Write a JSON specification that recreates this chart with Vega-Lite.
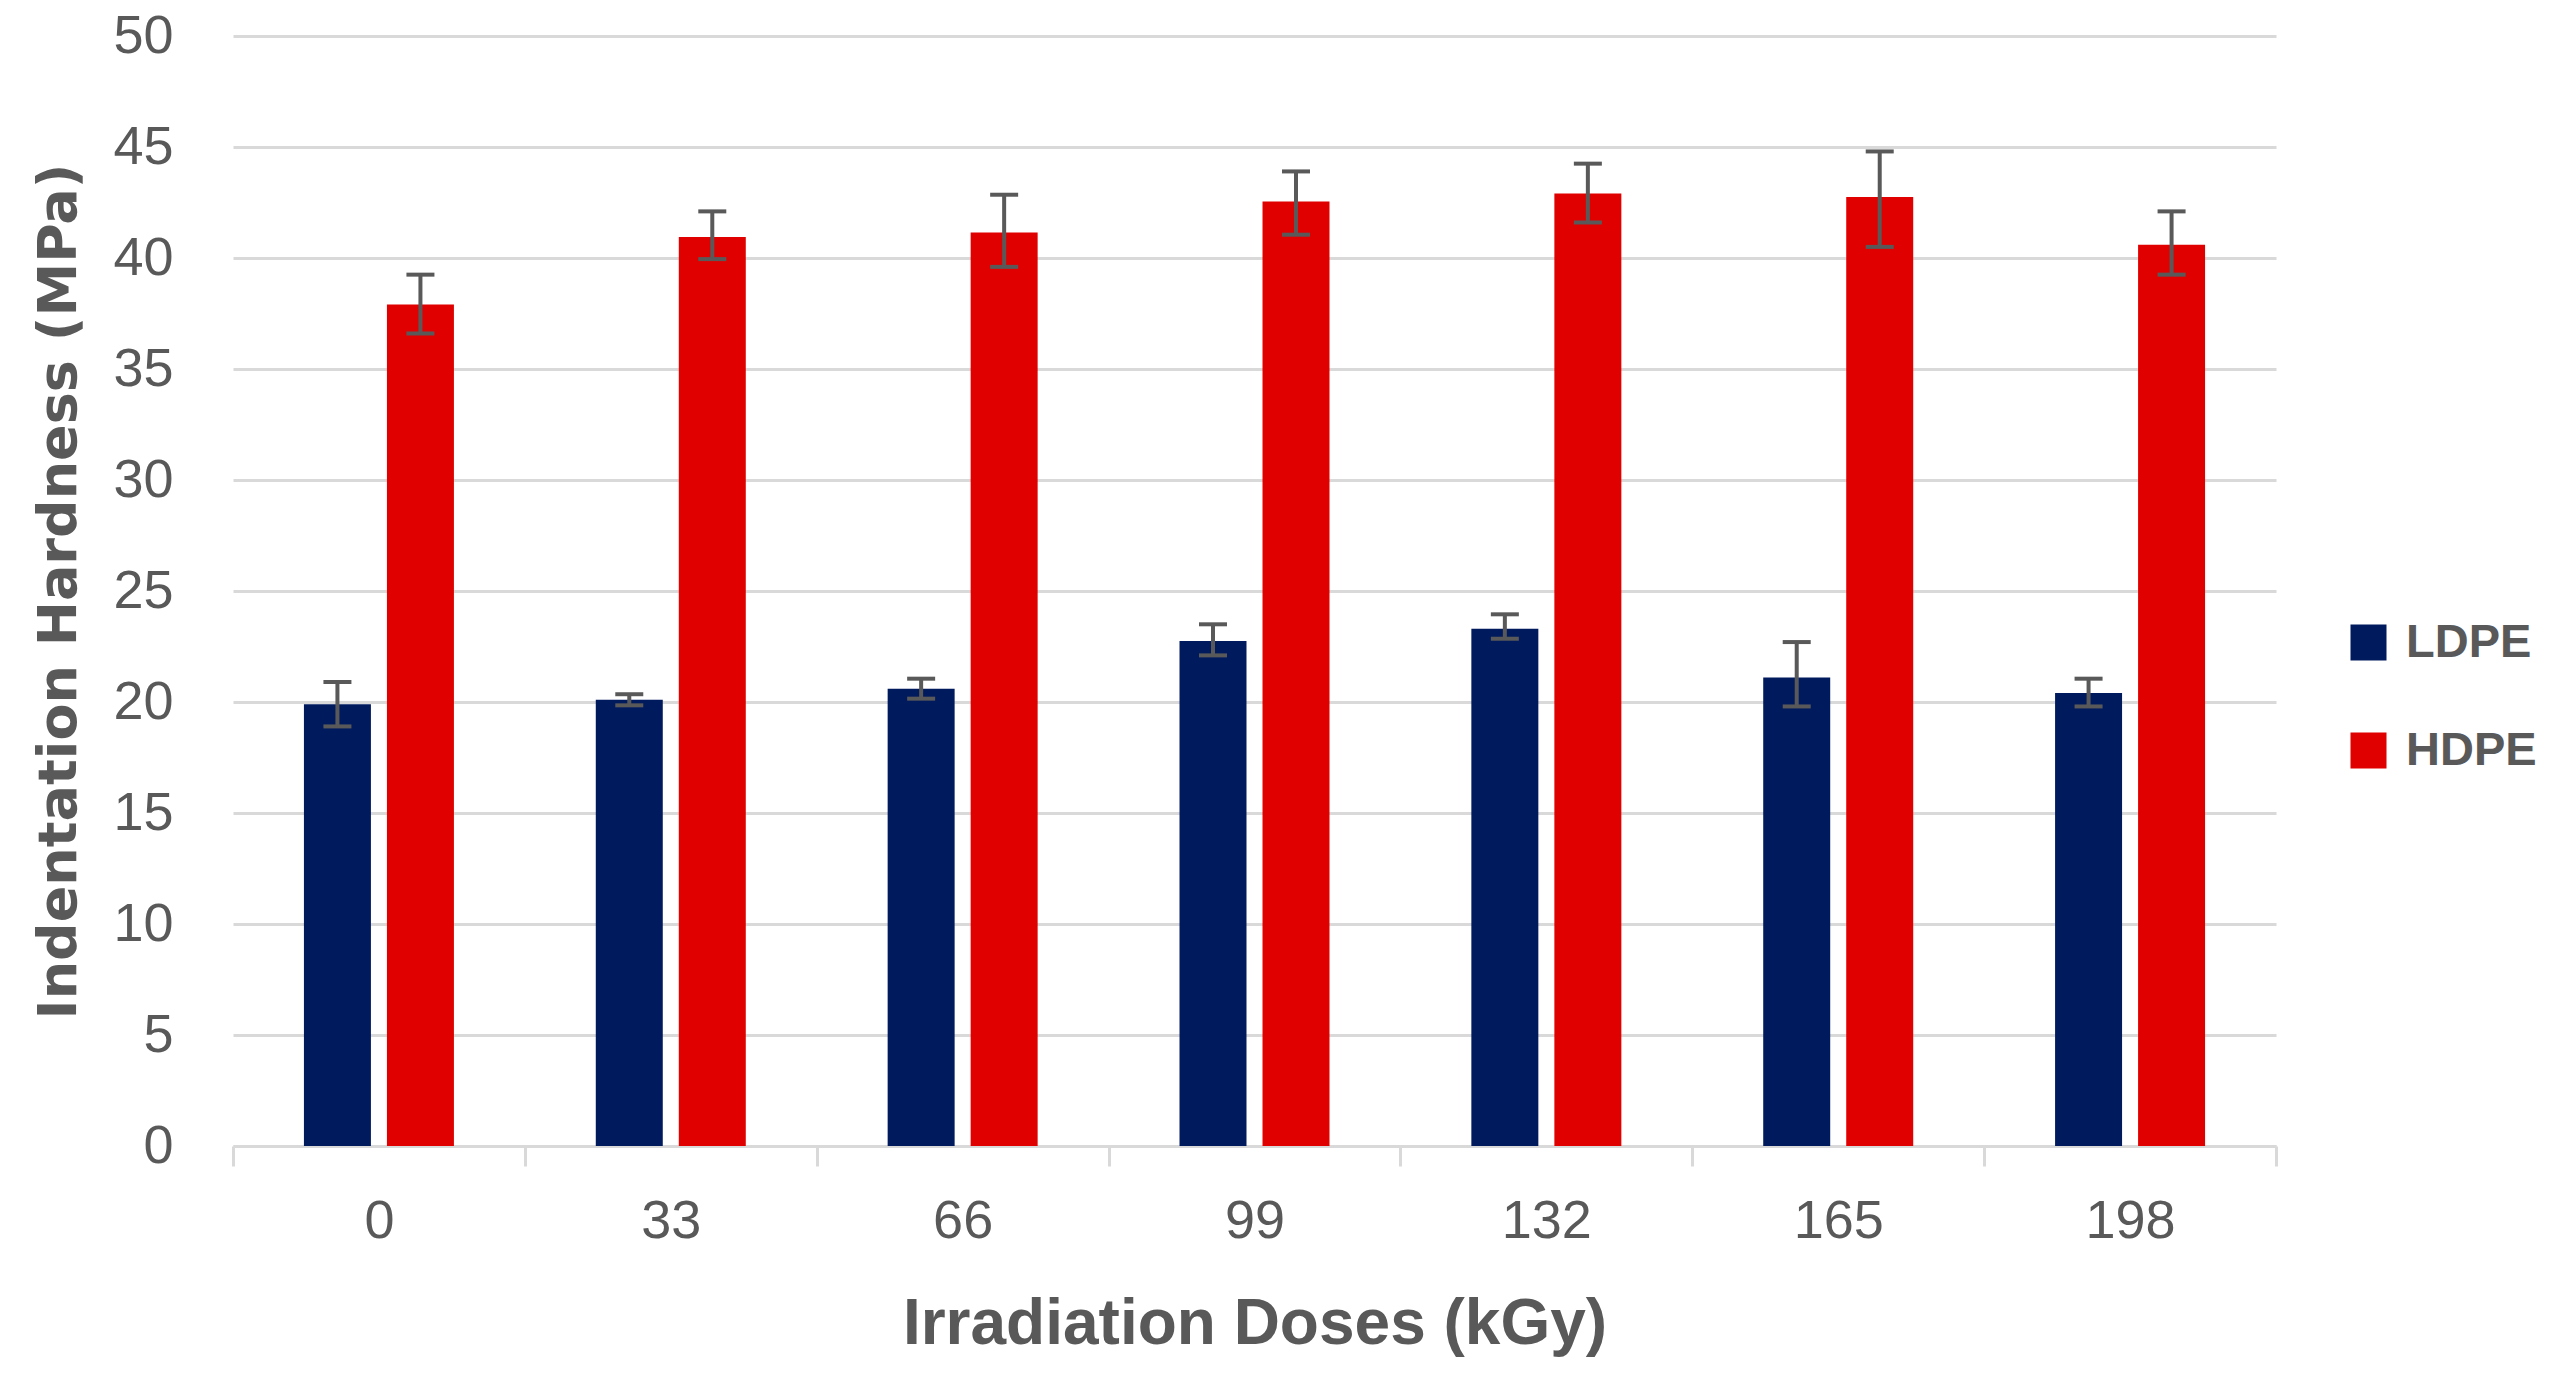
{
  "$schema": "https://vega.github.io/schema/vega-lite/v6.json",
  "width": 2043,
  "height": 1110,
  "autosize": {"type": "none"},
  "padding": {"left": 233, "top": 36, "right": 285, "bottom": 234},
  "background": "white",
  "config": {"view": {"stroke": null}, "font": "Liberation Sans"},
  "data": {
    "values": [
      {"dose": "0", "material": "LDPE", "value": 19.9, "lo": 18.9, "hi": 20.9},
      {"dose": "33", "material": "LDPE", "value": 20.1, "lo": 19.85, "hi": 20.35},
      {"dose": "66", "material": "LDPE", "value": 20.6, "lo": 20.15, "hi": 21.05},
      {"dose": "99", "material": "LDPE", "value": 22.75, "lo": 22.1, "hi": 23.5},
      {"dose": "132", "material": "LDPE", "value": 23.3, "lo": 22.85, "hi": 23.95},
      {"dose": "165", "material": "LDPE", "value": 21.1, "lo": 19.8, "hi": 22.7},
      {"dose": "198", "material": "LDPE", "value": 20.4, "lo": 19.8, "hi": 21.05},
      {"dose": "0", "material": "HDPE", "value": 37.9, "lo": 36.6, "hi": 39.25},
      {"dose": "33", "material": "HDPE", "value": 40.95, "lo": 39.95, "hi": 42.1},
      {"dose": "66", "material": "HDPE", "value": 41.15, "lo": 39.6, "hi": 42.85},
      {"dose": "99", "material": "HDPE", "value": 42.55, "lo": 41.05, "hi": 43.9},
      {"dose": "132", "material": "HDPE", "value": 42.9, "lo": 41.6, "hi": 44.25},
      {"dose": "165", "material": "HDPE", "value": 42.75, "lo": 40.5, "hi": 44.8},
      {"dose": "198", "material": "HDPE", "value": 40.6, "lo": 39.25, "hi": 42.1}
    ]
  },
  "encoding": {
    "x": {
      "field": "dose",
      "type": "nominal",
      "sort": ["0", "33", "66", "99", "132", "165", "198"],
      "scale": {"paddingInner": 0, "paddingOuter": 0},
      "axis": {
        "title": "Irradiation Doses (kGy)",
        "labelAngle": 0,
        "tickBand": "extent",
        "domainColor": "#d9d9d9",
        "domainWidth": 3,
        "tickColor": "#d9d9d9",
        "tickWidth": 3,
        "tickSize": 20,
        "labelFont": "Liberation Sans",
        "labelFontSize": 54,
        "labelColor": "#595959",
        "labelPadding": 28,
        "titleFont": "Liberation Sans",
        "titleFontSize": 64,
        "titleFontWeight": "bold",
        "titleColor": "#595959",
        "titlePadding": 44
      }
    },
    "xOffset": {
      "field": "material",
      "type": "nominal",
      "sort": ["LDPE", "HDPE"],
      "scale": {"paddingInner": 0.193, "paddingOuter": 0.8545}
    }
  },
  "layer": [
    {
      "mark": {"type": "bar"},
      "encoding": {
        "y": {
          "field": "value",
          "type": "quantitative",
          "scale": {"domain": [0, 50], "nice": false},
          "axis": {
            "title": "Indentation Hardness (MPa)",
            "values": [0, 5, 10, 15, 20, 25, 30, 35, 40, 45, 50],
            "ticks": false,
            "tickSize": 0,
            "domain": false,
            "grid": true,
            "gridColor": "#d9d9d9",
            "gridWidth": 3,
            "labelFont": "Liberation Sans",
            "labelFontSize": 54,
            "labelColor": "#595959",
            "labelPadding": 60,
            "titleFont": "DejaVu Sans",
            "titleFontSize": 54,
            "titleFontWeight": "bold",
            "titleColor": "#595959",
            "titlePadding": 26
          }
        },
        "color": {
          "field": "material",
          "type": "nominal",
          "sort": ["LDPE", "HDPE"],
          "scale": {"domain": ["LDPE", "HDPE"], "range": ["#001a5e", "#e00000"]},
          "legend": {
            "title": null,
            "orient": "none",
            "legendX": 2112,
            "legendY": 583,
            "symbolType": "square",
            "symbolSize": 1296,
            "symbolStrokeWidth": 0,
            "symbolOpacity": 1,
            "labelFont": "Liberation Sans",
            "labelFontSize": 47,
            "labelFontWeight": "bold",
            "labelColor": "#595959",
            "labelOffset": 14,
            "rowPadding": 60,
            "padding": 0
          }
        }
      }
    },
    {
      "mark": {"type": "rule", "color": "#595959", "strokeWidth": 4},
      "encoding": {
        "y": {"field": "lo", "type": "quantitative"},
        "y2": {"field": "hi"}
      }
    },
    {
      "mark": {"type": "tick", "color": "#595959", "thickness": 4, "size": 28, "orient": "horizontal", "opacity": 1},
      "encoding": {
        "y": {"field": "lo", "type": "quantitative"}
      }
    },
    {
      "mark": {"type": "tick", "color": "#595959", "thickness": 4, "size": 28, "orient": "horizontal", "opacity": 1},
      "encoding": {
        "y": {"field": "hi", "type": "quantitative"}
      }
    }
  ]
}
